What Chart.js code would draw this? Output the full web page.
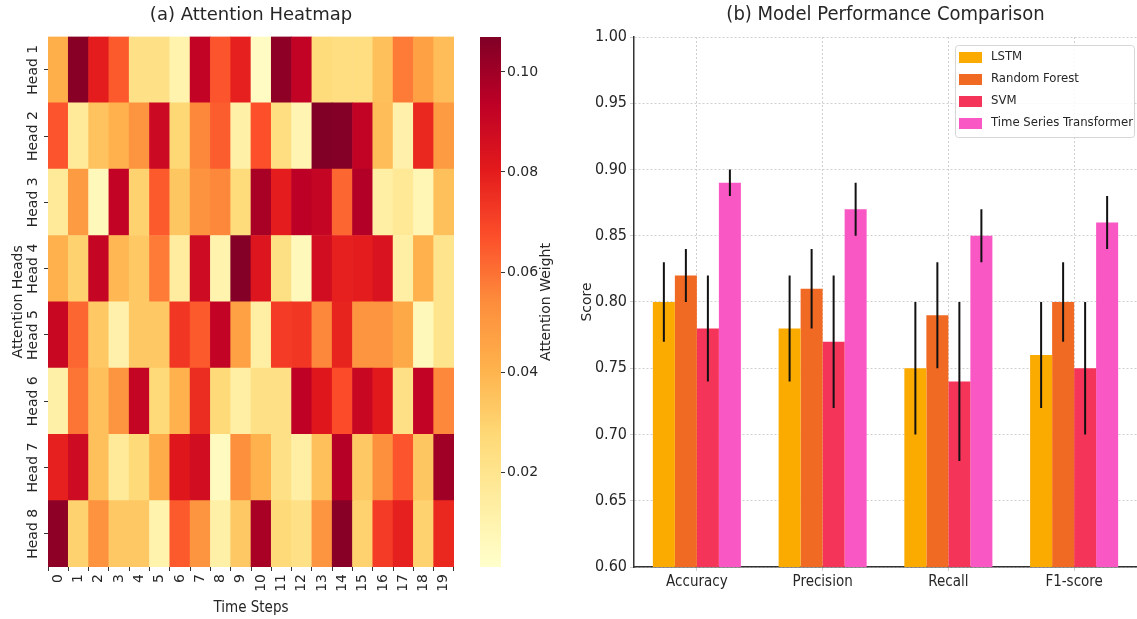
<!DOCTYPE html>
<html>
<head>
<meta charset="utf-8">
<title>Attention heatmap and model comparison</title>
<script src="https://cdn.jsdelivr.net/npm/chart.js@4.4.1/dist/chart.umd.min.js"></script>
<style>
  html, body { margin: 0; padding: 0; background: #fff; overflow: hidden; }
  body { width: 1137px; height: 619px; position: relative; }
  .box { position: absolute; top: 0; height: 619px; }
  #heatBox { left: 0; width: 470px; }
  #barBox { left: 470px; width: 100px; }
  #perfBox { left: 570px; width: 567px; }
</style>
</head>
<body>
<div class="box" id="heatBox"><canvas id="heatChart"></canvas></div>
<div class="box" id="barBox"><canvas id="colorbar"></canvas></div>
<div class="box" id="perfBox"><canvas id="perfChart"></canvas></div>

<script>
// ---- heatmap data ----
const HEADS = ['Head 1', 'Head 2', 'Head 3', 'Head 4', 'Head 5', 'Head 6', 'Head 7', 'Head 8'];
const STEPS = ['0', '1', '2', '3', '4', '5', '6', '7', '8', '9', '10', '11', '12', '13', '14', '15', '16', '17', '18', '19'];

const HEAD_1 = [0.042, 0.105, 0.080, 0.065, 0.022, 0.022, 0.010, 0.092, 0.066, 0.079, 0.004, 0.104, 0.092, 0.026, 0.024, 0.024, 0.036, 0.058, 0.047, 0.037];
const HEAD_2 = [0.066, 0.016, 0.035, 0.041, 0.051, 0.089, 0.028, 0.055, 0.064, 0.012, 0.067, 0.024, 0.009, 0.107, 0.106, 0.092, 0.037, 0.011, 0.077, 0.049];
const HEAD_3 = [0.016, 0.049, 0.006, 0.092, 0.030, 0.065, 0.034, 0.052, 0.055, 0.026, 0.098, 0.080, 0.094, 0.091, 0.062, 0.096, 0.013, 0.017, 0.008, 0.036];
const HEAD_4 = [0.041, 0.030, 0.091, 0.039, 0.033, 0.058, 0.015, 0.088, 0.010, 0.106, 0.083, 0.023, 0.006, 0.087, 0.079, 0.080, 0.084, 0.013, 0.041, 0.020];
const HEAD_5 = [0.090, 0.062, 0.033, 0.011, 0.033, 0.033, 0.073, 0.065, 0.092, 0.047, 0.013, 0.072, 0.073, 0.055, 0.078, 0.051, 0.051, 0.044, 0.006, 0.020];
const HEAD_6 = [0.012, 0.059, 0.036, 0.051, 0.091, 0.027, 0.041, 0.076, 0.027, 0.013, 0.022, 0.022, 0.093, 0.082, 0.068, 0.090, 0.081, 0.022, 0.092, 0.055];
const HEAD_7 = [0.079, 0.088, 0.036, 0.016, 0.027, 0.043, 0.082, 0.087, 0.005, 0.053, 0.041, 0.022, 0.013, 0.036, 0.095, 0.033, 0.053, 0.066, 0.034, 0.100];
const HEAD_8 = [0.104, 0.030, 0.052, 0.033, 0.033, 0.010, 0.065, 0.051, 0.012, 0.033, 0.098, 0.027, 0.022, 0.051, 0.105, 0.030, 0.072, 0.079, 0.030, 0.077];
const WEIGHTS = [HEAD_1, HEAD_2, HEAD_3, HEAD_4, HEAD_5, HEAD_6, HEAD_7, HEAD_8];

// colour scale (matplotlib YlOrRd)
const CB_MIN = 0.001;
const CB_MAX = 0.107;
const CB_TICKS = [0.02, 0.04, 0.06, 0.08, 0.10];
const YLORRD = ['#ffffcc', '#ffeda0', '#fed976', '#feb24c', '#fd8d3c', '#fc4e2a', '#e31a1c', '#bd0026', '#800026'];

// ---- model comparison data ----
const METRICS = ['Accuracy', 'Precision', 'Recall', 'F1-score'];
const MODELS = ['LSTM', 'Random Forest', 'SVM', 'Time Series Transformer'];
const MODEL_COLORS = ['#fbaa00', '#f16a23', '#f5345a', '#f957c3'];
const LSTM_SCORES = [0.80, 0.78, 0.75, 0.76];
const RF_SCORES = [0.82, 0.81, 0.79, 0.80];
const SVM_SCORES = [0.78, 0.77, 0.74, 0.75];
const TST_SCORES = [0.89, 0.87, 0.85, 0.86];
const LSTM_ERR = [0.03, 0.04, 0.05, 0.04];
const RF_ERR = [0.02, 0.03, 0.04, 0.03];
const SVM_ERR = [0.04, 0.05, 0.06, 0.05];
const TST_ERR = [0.01, 0.02, 0.02, 0.02];
const SCORES = [LSTM_SCORES, RF_SCORES, SVM_SCORES, TST_SCORES];
const ERRORS = [LSTM_ERR, RF_ERR, SVM_ERR, TST_ERR];

const FONT = 'DejaVu Sans';
const FONT_NARROW = "'DejaVu Sans Condensed', 'DejaVu Sans'";
const TEXT = '#262626';

// hex -> rgb helpers for the colormap
function hexRgb(h) {
    return [parseInt(h.slice(1, 3), 16), parseInt(h.slice(3, 5), 16), parseInt(h.slice(5, 7), 16)];
}
function weightColor(v) {
    let t = (v - CB_MIN) / (CB_MAX - CB_MIN);
    t = Math.max(0, Math.min(1, t));
    const pos = t * (YLORRD.length - 1);
    const i = Math.min(Math.floor(pos), YLORRD.length - 2);
    const f = pos - i;
    const a = hexRgb(YLORRD[i]), b = hexRgb(YLORRD[i + 1]);
    const c = a.map((x, k) => Math.round(x + (b[k] - x) * f));
    return 'rgb(' + c.join(',') + ')';
}

Chart.defaults.animation = false;
Chart.defaults.plugins.tooltip.enabled = false;
Chart.defaults.plugins.legend.display = false;
Chart.defaults.color = TEXT;

// ---- (a) heatmap: one stacked bar series per head, bottom row first ----
const heatSets = [];
for (let r = WEIGHTS.length - 1; r >= 0; r--) {
    heatSets.push({
        label: HEADS[r],
        data: STEPS.map(() => 1),
        backgroundColor: WEIGHTS[r].map(weightColor),
        borderWidth: 0,
        barPercentage: 1,
        categoryPercentage: 1
    });
}

new Chart(document.getElementById('heatChart'), {
    type: 'bar',
    data: { labels: STEPS, datasets: heatSets },
    options: {
        responsive: true,
        maintainAspectRatio: false,
        layout: { padding: { top: 0, right: 16, bottom: 0, left: 0 } },
        plugins: {
            title: {
                display: true,
                fullSize: false,
                text: '(a) Attention Heatmap',
                font: { family: FONT, size: 18, weight: 'normal' },
                color: TEXT,
                padding: { top: 5, bottom: 10 }
            }
        },
        scales: {
            x: {
                stacked: true,
                grid: { drawOnChartArea: false, tickLength: 4, color: '#333' },
                border: { display: false },
                ticks: { minRotation: 90, maxRotation: 90, padding: 3, font: { family: FONT, size: 14 } },
                title: { display: true, text: 'Time Steps', font: { family: FONT_NARROW, size: 15 }, padding: { top: 0, bottom: 2 } },
                afterFit: s => { s.height = 52; }
            },
            y: {
                stacked: true,
                min: 0,
                max: HEADS.length,
                afterBuildTicks: s => { s.ticks = HEADS.map((h, i) => ({ value: i + 0.5 })); },
                grid: { drawOnChartArea: false, tickLength: 4, color: '#333' },
                border: { display: false },
                ticks: {
                    minRotation: 90, maxRotation: 90, padding: -14,
                    crossAlign: 'center',
                    font: { family: FONT, size: 14 },
                    callback: v => HEADS[HEADS.length - 1 - Math.floor(v)]
                },
                title: { display: true, text: 'Attention Heads', font: { family: FONT, size: 14 }, padding: { top: 10, bottom: 0 } },
                afterFit: s => { s.width = 48; }
            }
        }
    }
});

// ---- colorbar: a single floating bar filled with the colormap ----
const cbTitle = {
    id: 'cbTitle',
    afterDraw(chart) {
        const c = chart.ctx, a = chart.chartArea;
        c.save();
        c.translate(76, (a.top + a.bottom) / 2);
        c.rotate(-Math.PI / 2);
        c.font = '14px ' + FONT;
        c.fillStyle = TEXT;
        c.textAlign = 'center';
        c.textBaseline = 'middle';
        c.fillText('Attention Weight', 0, 0);
        c.restore();
    }
};

new Chart(document.getElementById('colorbar'), {
    type: 'bar',
    data: {
        labels: [''],
        datasets: [{
            data: [[CB_MIN, CB_MAX]],
            barPercentage: 1,
            categoryPercentage: 1,
            borderWidth: 0,
            backgroundColor: ctx => {
                const area = ctx.chart.chartArea;
                if (!area) return YLORRD[4];
                const g = ctx.chart.ctx.createLinearGradient(0, area.bottom, 0, area.top);
                YLORRD.forEach((col, i) => g.addColorStop(i / (YLORRD.length - 1), col));
                return g;
            }
        }]
    },
    options: {
        responsive: true,
        maintainAspectRatio: false,
        layout: { padding: { top: 37, right: 0, bottom: 52, left: 10 } },
        scales: {
            x: { display: false },
            y: {
                position: 'right',
                min: CB_MIN,
                max: CB_MAX,
                afterBuildTicks: s => { s.ticks = CB_TICKS.map(v => ({ value: v })); },
                grid: { drawOnChartArea: false, tickLength: 4, color: '#333' },
                border: { display: false },
                ticks: { padding: 2, font: { family: FONT, size: 14 }, callback: v => v.toFixed(2) },
                afterFit: s => { s.width = 69; }
            }
        }
    },
    plugins: [cbTitle]
});

// ---- (b) grouped bars with error bars ----
const errorBars = {
    id: 'errorBars',
    afterDatasetsDraw(chart) {
        const c = chart.ctx, y = chart.scales.y;
        c.save();
        c.strokeStyle = '#111';
        c.lineWidth = 2;
        chart.data.datasets.forEach((ds, i) => {
            chart.getDatasetMeta(i).data.forEach((bar, j) => {
                const v = SCORES[i][j], e = ERRORS[i][j];
                c.beginPath();
                c.moveTo(bar.x, y.getPixelForValue(v - e));
                c.lineTo(bar.x, y.getPixelForValue(v + e));
                c.stroke();
            });
        });
        c.restore();
    }
};

const boxLegend = {
    id: 'boxLegend',
    afterDraw(chart) {
        const c = chart.ctx, a = chart.chartArea;
        const x0 = a.right - 182, y0 = a.top + 8;
        c.save();
        c.fillStyle = 'rgba(255,255,255,0.85)';
        c.strokeStyle = '#d6d6d6';
        c.lineWidth = 1;
        c.beginPath();
        c.roundRect(x0 + 0.5, y0 + 0.5, 179, 92, 3);
        c.fill();
        c.stroke();
        c.font = '13px ' + FONT_NARROW;
        c.textBaseline = 'middle';
        chart.data.datasets.forEach((ds, i) => {
            const yy = y0 + 12 + i * 22;
            c.fillStyle = ds.backgroundColor;
            c.fillRect(x0 + 4, yy - 5, 23, 11);
            c.fillStyle = TEXT;
            c.fillText(ds.label, x0 + 36, yy);
        });
        c.restore();
    }
};

new Chart(document.getElementById('perfChart'), {
    type: 'bar',
    data: {
        labels: METRICS,
        datasets: MODELS.map((m, i) => ({
            label: m,
            data: SCORES[i],
            backgroundColor: MODEL_COLORS[i],
            borderWidth: 0,
            barPercentage: 1,
            categoryPercentage: 0.7
        }))
    },
    options: {
        responsive: true,
        maintainAspectRatio: false,
        layout: { padding: { top: 0, right: 0, bottom: 0, left: 0 } },
        plugins: {
            title: {
                display: true,
                fullSize: false,
                text: '(b) Model Performance Comparison',
                font: { family: FONT_NARROW, size: 20, weight: 'normal' },
                color: TEXT,
                padding: { top: 3, bottom: 10 }
            }
        },
        scales: {
            x: {
                grid: { offset: false, color: '#d0d0d0', tickLength: 4 },
                border: { display: true, color: '#333', width: 1.5, dash: [2, 2] },
                ticks: { padding: 2, font: { family: FONT_NARROW, size: 15 } },
                afterFit: s => { s.height = 52; }
            },
            y: {
                min: 0.6,
                max: 1.0,
                ticks: { stepSize: 0.05, padding: 3, font: { family: FONT_NARROW, size: 16 }, callback: v => v.toFixed(2) },
                grid: { color: '#d0d0d0', tickLength: 4 },
                border: { display: true, color: '#333', width: 1.5, dash: [2, 2] },
                title: { display: true, text: 'Score', font: { family: FONT, size: 14 }, padding: { top: 9, bottom: 0 } },
                afterFit: s => { s.width = 64; }
            }
        }
    },
    plugins: [errorBars, boxLegend]
});
</script>
</body>
</html>
